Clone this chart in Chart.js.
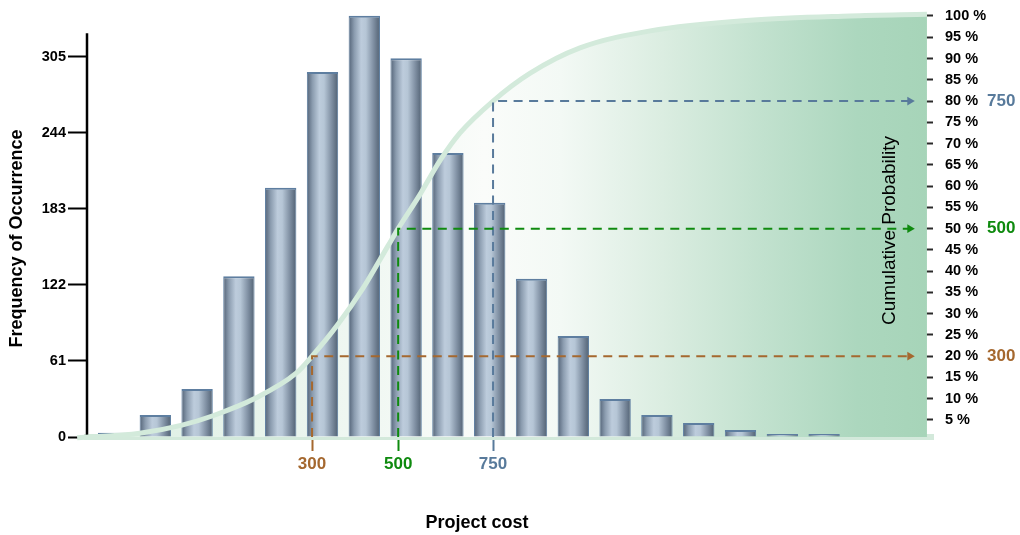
<!DOCTYPE html>
<html>
<head>
<meta charset="utf-8">
<title>Project cost</title>
<script src="https://cdn.jsdelivr.net/npm/chart.js@4.4.1/dist/chart.umd.min.js"></script>
<style>
  html, body { margin: 0; padding: 0; background: #fff; }
  #wrap { position: relative; width: 1020px; height: 535px; }
</style>
</head>
<body>
<div id="wrap"><canvas id="chart"></canvas></div>
<script>
// histogram bins (bar slots along the cost axis) and their counts
const bins = [1, 2, 3, 4, 5, 6, 7, 8, 9, 10, 11, 12, 13, 14, 15, 16, 17, 18];
const frequency = [3.5, 17.7, 38.5, 129, 200, 293, 338, 304, 228, 188, 127, 81, 30.5, 17.7, 11.2, 5.6, 2.4, 2.4];

// cumulative probability curve, in the same slot units
const curveSlot = [0.13, 1.63, 2.64, 3.38, 4.39, 5.37, 5.75, 6.37, 6.97, 7.57, 7.81, 8.33, 8.81, 9.29, 10.08, 10.96, 12.16, 13.84, 16.23, 18.62, 20.46];
const curveProb = [0.8, 1.9, 3.8, 6.0, 10.1, 16.0, 20, 27.5, 36, 46, 50, 58, 66, 72.5, 80, 86.5, 92.5, 96.5, 99, 100, 100.4];

// read-offs: cost, where it sits on the slot axis, probability reached
const markerCost = ['300', '500', '750'];
const markerSlot = [5.75, 7.81, 10.08];
const markerProb = [20, 50, 80];
const markerColor = ['#a5682f', '#0f8a0f', '#587a9b'];

// axis ticks
const freqTicks = [0, 61, 122, 183, 244, 305];
const probTicks = [5, 10, 15, 20, 25, 30, 35, 40, 45, 50, 55, 60, 65, 70, 75, 80, 85, 90, 95, 100];

const FONT = "'Liberation Sans', Arial, sans-serif";
Chart.defaults.font.family = FONT;

const slotMin = 0.366, slotMax = 20.605;   // x range of the plot
const probMin = 1.0, probMax = 100.47;     // right axis range
const arrowSlot = 20.05;                   // where the read-off arrows stop
const leftAxisTop = 324;                   // left axis line stops here

// fixed box sizes, no label overhang padding
function fixBox(size) {
    return (s) => {
        if (s.isHorizontal()) s.height = size; else s.width = size;
        s.paddingTop = 0; s.paddingBottom = 0;
        s.paddingLeft = 0; s.paddingRight = 0;
    };
}

// bar cylinder look
function barFill(c) {
    const chart = c.chart;
    if (c.type !== 'data' || !chart.chartArea) return '#9aabbd';
    const xs = chart.scales.x;
    const cx = xs.getPixelForValue(c.raw.x);
    const half = (xs.getPixelForValue(2) - xs.getPixelForValue(1)) * 0.75 / 2;
    if (!isFinite(cx) || !isFinite(half)) return '#9aabbd';
    const g = chart.ctx.createLinearGradient(cx - half, 0, cx + half, 0);
    g.addColorStop(0, '#536377');
    g.addColorStop(0.18, '#8b9caf');
    g.addColorStop(0.4, '#bdccdc');
    g.addColorStop(0.55, '#b6c6d6');
    g.addColorStop(0.78, '#8292a5');
    g.addColorStop(1, '#516173');
    return g;
}

// green area under the curve, pale in the middle, deeper to the right
function areaFill(c) {
    const {ctx, chartArea} = c.chart;
    if (!chartArea) return 'rgba(0,0,0,0)';
    const g = ctx.createLinearGradient(chartArea.left, 0, chartArea.right, 0);
    g.addColorStop(0, '#dcefe2');
    g.addColorStop(0.25, '#eaf5ee');
    g.addColorStop(0.47, '#fafcfa');
    g.addColorStop(0.56, '#f3f9f5');
    g.addColorStop(0.68, '#dbede1');
    g.addColorStop(0.8, '#c1e1ce');
    g.addColorStop(0.91, '#acd7be');
    g.addColorStop(1, '#a6d4b8');
    return g;
}

const curveData = curveSlot.map((s, i) => ({x: s, y: curveProb[i]}));

const markerSets = markerCost.map((cost, i) => ({
    type: 'line',
    label: cost,
    yAxisID: 'yR',
    data: [
        {x: markerSlot[i], y: probMin},
        {x: markerSlot[i], y: markerProb[i]},
        {x: arrowSlot, y: markerProb[i]}
    ],
    borderColor: markerColor[i],
    borderWidth: 2,
    borderDash: [9, 6.5],
    tension: 0,
    pointRadius: [0, 0, 5],
    pointStyle: 'triangle',
    rotation: 90,
    pointBackgroundColor: markerColor[i],
    pointBorderWidth: 0,
    fill: false,
    order: 0
}));

// extra drawing: short left axis line, titles, read-off values
const overlay = {
    id: 'overlay',
    beforeDatasetsDraw(chart) {
        const {ctx, scales: {y}} = chart;
        ctx.save();
        ctx.strokeStyle = '#000';
        ctx.lineWidth = 2.5;
        ctx.beginPath();
        ctx.moveTo(y.right, y.getPixelForValue(0) + 1);
        ctx.lineTo(y.right, y.getPixelForValue(leftAxisTop));
        ctx.stroke();
        ctx.restore();
    },
    afterDraw(chart) {
        const {ctx, scales: {x, y, yR}} = chart;
        ctx.save();
        ctx.fillStyle = '#000';
        ctx.textAlign = 'center';
        ctx.textBaseline = 'middle';

        ctx.save();
        ctx.translate(17, (y.top + y.bottom) / 2 + 13);
        ctx.rotate(-Math.PI / 2);
        ctx.font = 'bold 18px ' + FONT;
        ctx.fillText('Frequency of Occurrence', 0, 0);
        ctx.restore();

        ctx.save();
        ctx.translate(yR.left - 43, (yR.top + yR.bottom) / 2 + 5);
        ctx.rotate(-Math.PI / 2);
        ctx.font = '19px ' + FONT;
        ctx.fillText('Cumulative Probability', 0, 0);
        ctx.restore();

        ctx.font = 'bold 18px ' + FONT;
        ctx.fillText('Project cost', (x.left + x.right) / 2 - 33, 523);

        ctx.textAlign = 'left';
        ctx.font = 'bold 17px ' + FONT;
        markerCost.forEach((cost, i) => {
            ctx.fillStyle = markerColor[i];
            ctx.fillText(cost, yR.left + 54, yR.getPixelForValue(markerProb[i]));
        });
        ctx.restore();
    }
};

const chart = new Chart(document.getElementById('chart'), {
    data: {
        datasets: [
            ...markerSets,
            {
                type: 'line',
                label: 'Cumulative',
                yAxisID: 'yR',
                data: curveData,
                borderColor: '#d3eadb',
                borderWidth: 5,
                cubicInterpolationMode: 'monotone',
                pointRadius: 0,
                fill: false,
                clip: false,
                order: 1
            },
            {
                type: 'bar',
                label: 'Frequency',
                yAxisID: 'y',
                data: bins.map((b, i) => ({x: b, y: frequency[i]})),
                backgroundColor: barFill,
                borderColor: '#5e7ea0',
                borderWidth: {top: 2, left: 1, right: 1, bottom: 0},
                barPercentage: 0.75,
                categoryPercentage: 1,
                order: 2
            },
            {
                type: 'line',
                label: 'Area',
                yAxisID: 'yR',
                data: curveData,
                borderColor: 'transparent',
                borderWidth: 1,
                cubicInterpolationMode: 'monotone',
                pointRadius: 0,
                backgroundColor: areaFill,
                fill: 'start',
                order: 3
            }
        ]
    },
    options: {
        responsive: true,
        maintainAspectRatio: false,
        animation: false,
        layout: {padding: {top: 14, left: 0, right: 0, bottom: 0}},
        plugins: {
            legend: {display: false},
            tooltip: {enabled: false}
        },
        scales: {
            x: {
                type: 'linear',
                position: 'bottom',
                min: slotMin,
                max: slotMax,
                offset: false,
                z: 1,
                afterFit: fixBox(98),
                afterBuildTicks: (s) => { s.ticks = markerSlot.map(v => ({value: v})); },
                border: {display: true, color: '#d3e9db', width: 6},
                grid: {
                    offset: false,
                    drawOnChartArea: false,
                    drawTicks: true,
                    tickLength: 14,
                    tickWidth: 2,
                    tickColor: (c) => markerColor[c.index] || '#000'
                },
                ticks: {
                    autoSkip: false,
                    maxRotation: 0,
                    padding: 3,
                    font: {size: 17, weight: 'bold'},
                    color: (c) => markerColor[c.index] || '#000',
                    callback: (v, i) => markerCost[i]
                }
            },
            y: {
                position: 'left',
                min: 0,
                max: 339.5,
                afterFit: fixBox(87),
                afterBuildTicks: (s) => { s.ticks = freqTicks.map(v => ({value: v})); },
                border: {display: false},
                grid: {
                    drawOnChartArea: false,
                    drawTicks: true,
                    tickLength: 19,
                    tickWidth: 2,
                    tickColor: '#000'
                },
                ticks: {
                    autoSkip: false,
                    padding: 2,
                    color: '#000',
                    font: {size: 14.5, weight: 'bold'}
                }
            },
            yR: {
                position: 'right',
                min: probMin,
                max: probMax,
                z: 1,
                afterFit: fixBox(87),
                afterBuildTicks: (s) => { s.ticks = probTicks.map(v => ({value: v})); },
                border: {display: false},
                grid: {
                    drawOnChartArea: false,
                    drawTicks: true,
                    tickLength: -16,
                    tickWidth: 2,
                    tickColor: '#2a2a2a'
                },
                ticks: {
                    autoSkip: false,
                    padding: 28,
                    color: '#000',
                    font: {size: 14.5, weight: 'bold'},
                    callback: (v) => v + ' %'
                }
            }
        }
    },
    plugins: [overlay]
});
</script>
</body>
</html>
